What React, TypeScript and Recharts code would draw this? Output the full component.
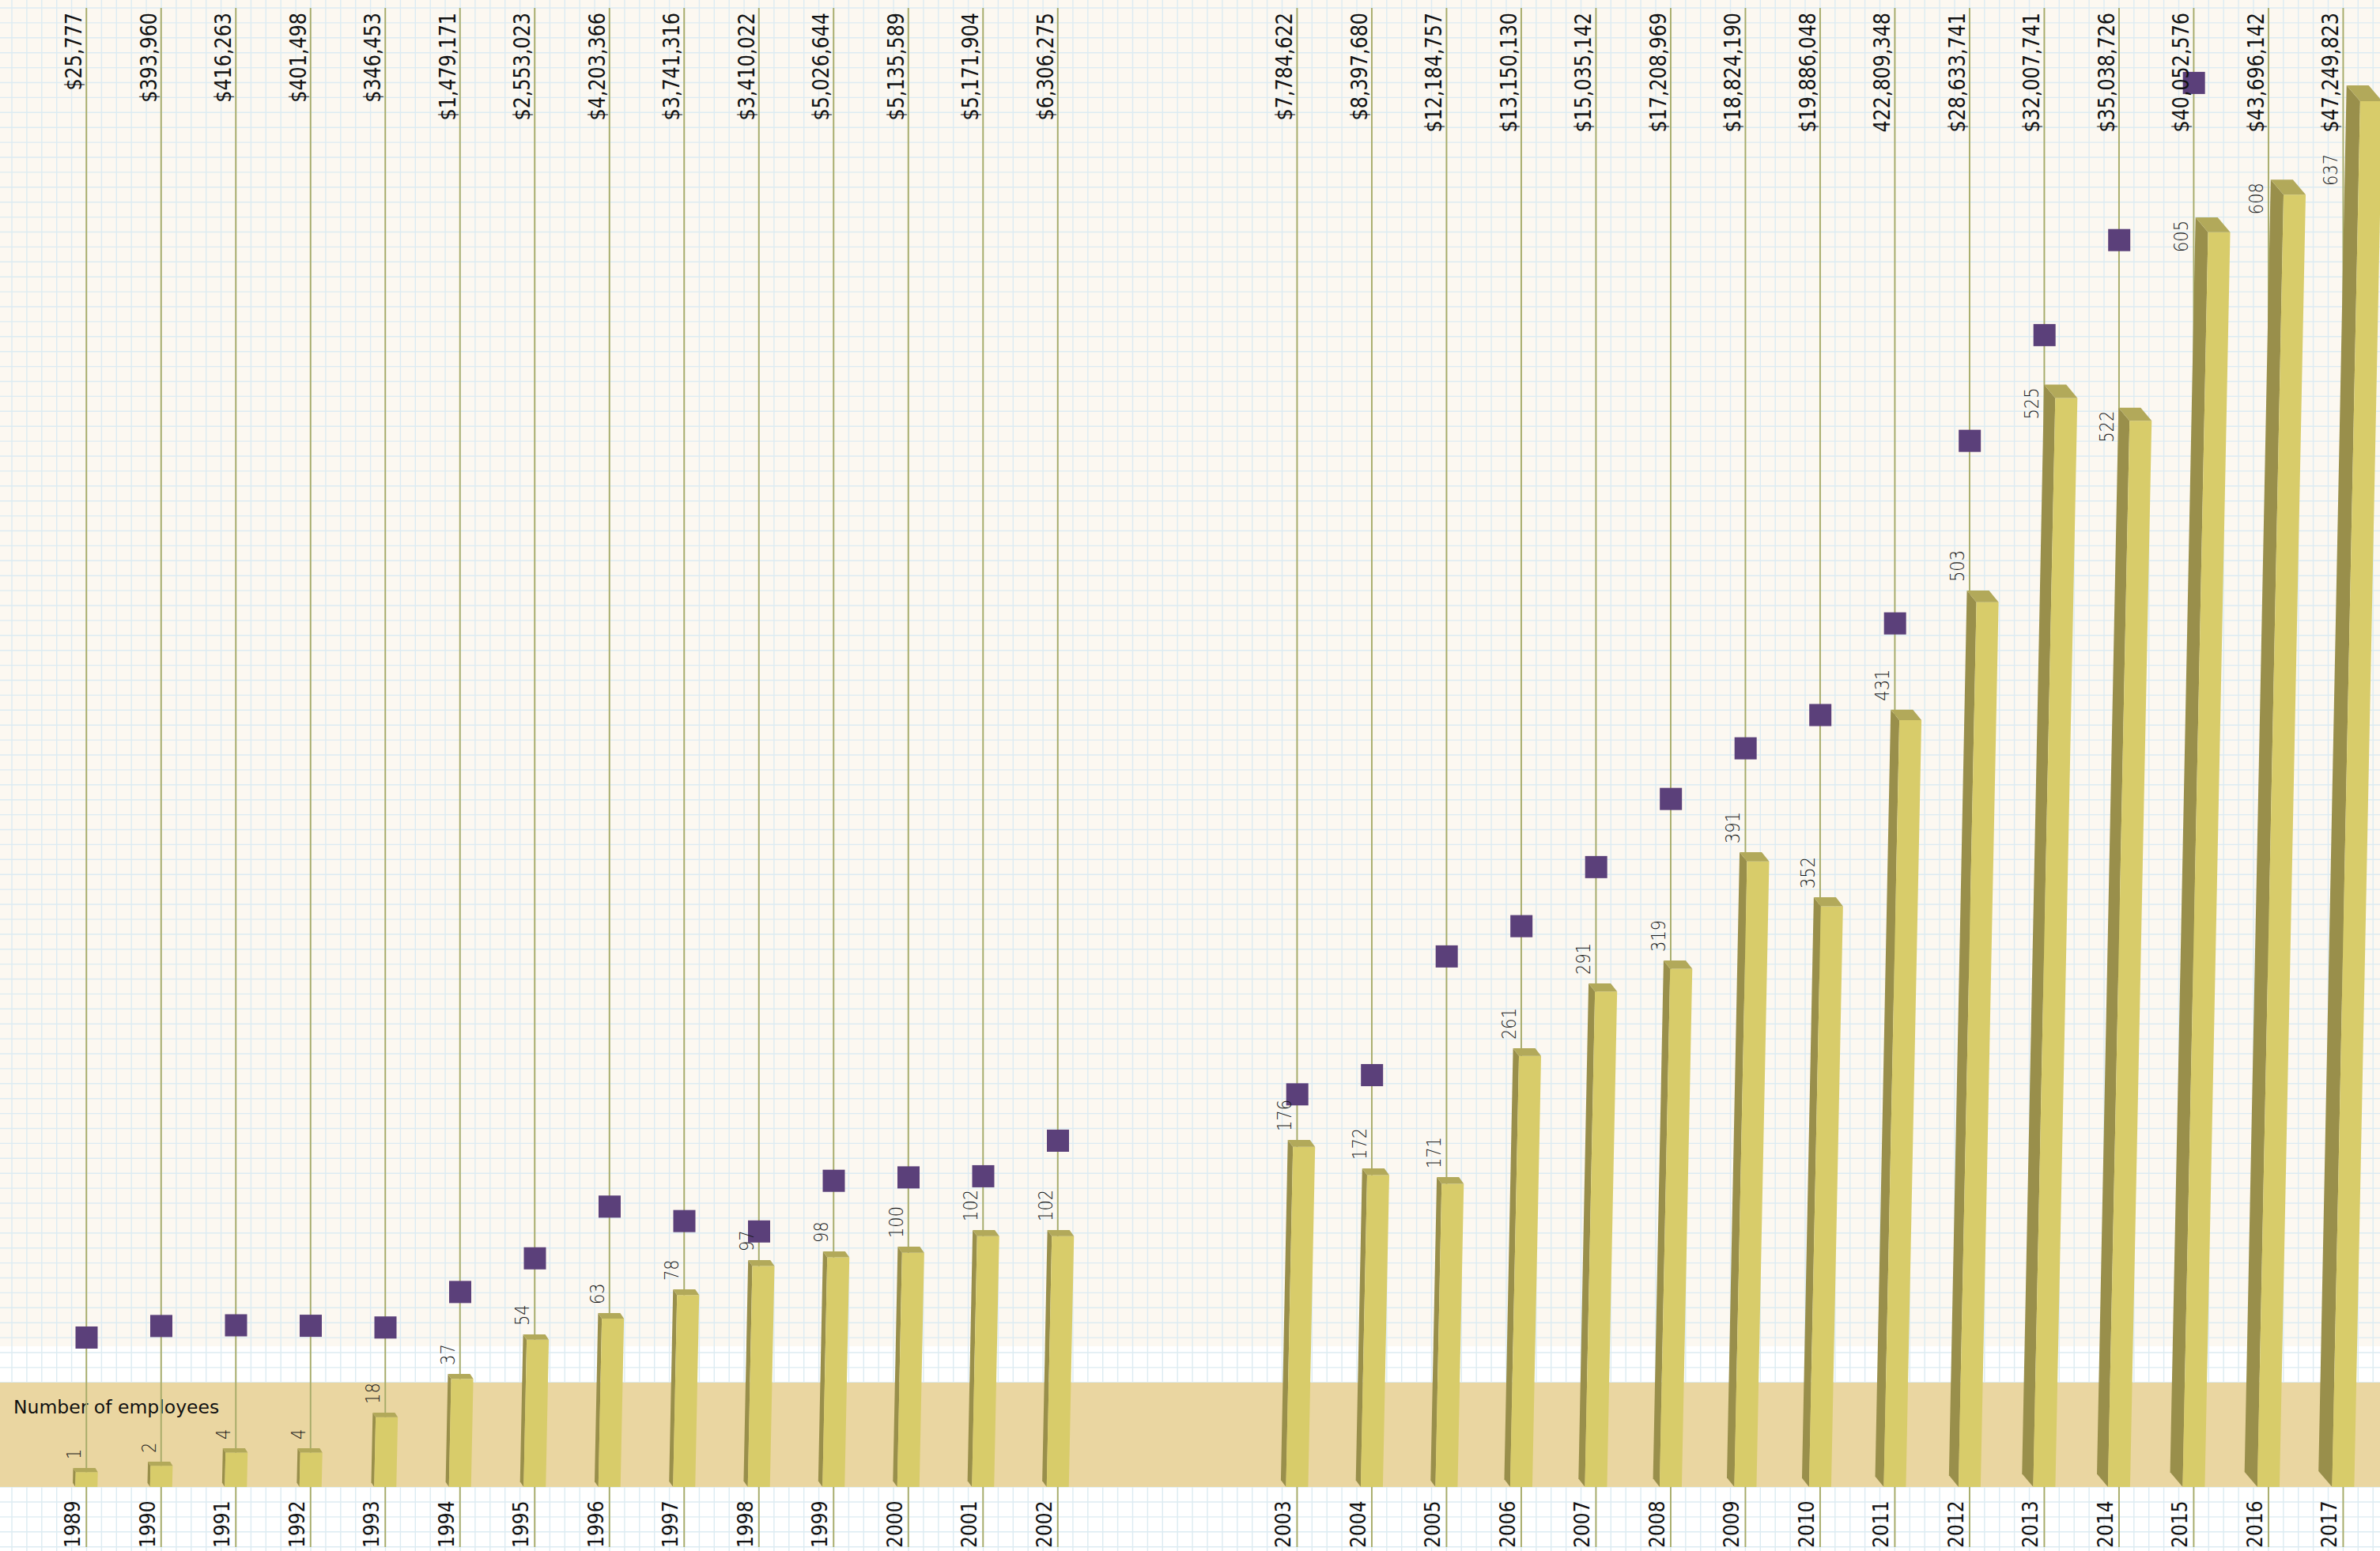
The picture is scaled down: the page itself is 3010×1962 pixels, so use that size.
import React from 'react';
import { ComposedChart, Bar, Scatter, XAxis, YAxis, LabelList } from 'recharts';

// ---------- data ----------
const years = [
  1989, 1990, 1991, 1992, 1993, 1994, 1995, 1996, 1997, 1998, 1999, 2000, 2001, 2002,
  2003, 2004, 2005, 2006, 2007, 2008, 2009, 2010, 2011, 2012, 2013, 2014, 2015, 2016, 2017,
];
const employees = [
  1, 2, 4, 4, 18, 37, 54, 63, 78, 97, 98, 100, 102, 102,
  176, 172, 171, 261, 291, 319, 391, 352, 431, 503, 525, 522, 605, 608, 637,
];
// drawn height of each (hand-drawn) bar, in employee-axis units
const barLevels = [
  8.6, 11.5, 17.6, 17.6, 33.8, 51.4, 69.3, 79.0, 89.8, 103.1, 107.1, 109.2, 116.8, 116.8,
  157.7, 144.8, 140.8, 199.4, 228.9, 239.3, 288.5, 268.0, 353.3, 407.4, 501.0, 490.5, 577.0, 594.2, 637,
];
const revenue = [
  25777, 393960, 416263, 401498, 346453, 1479171, 2553023, 4203366, 3741316, 3410022, 5026644, 5135589,
  5171904, 6306275, 7784622, 8397680, 12184757, 13150130, 15035142, 17208969, 18824190, 19886048,
  22809348, 28633741, 32007741, 35038726, 40052576, 43696142, 47249823,
];
const revenueLabels = [
  '$25,777', '$393,960', '$416,263', '$401,498', '$346,453', '$1,479,171', '$2,553,023', '$4,203,366',
  '$3,741,316', '$3,410,022', '$5,026,644', '$5,135,589', '$5,171,904', '$6,306,275', '$7,784,622',
  '$8,397,680', '$12,184,757', '$13,150,130', '$15,035,142', '$17,208,969', '$18,824,190', '$19,886,048',
  '422,809,348', '$28,633,741', '$32,007,741', '$35,038,726', '$40,052,576', '$43,696,142', '$47,249,823',
];
const bandTitle = 'Number of employees';

// ---------- layout / style ----------
const W = 3010;
const H = 1962;
const PLOT_TOP = 10;
const PLOT_BOTTOM = 1957;
const AXIS_BREAK_AFTER = 2002; // timeline break between 2002 and 2003
const AXIS_BREAK_EXTRA = 2.203; // extra slots in the break

const CREAM = '#fcf8f1';
const GRID = '#dcebf2';
const BAND = '#ead6a1';
const LINE = '#a7ab68';
const FRONT = '#d8cc6a';
const SIDE = '#998f4b';
const TOP = '#b2a95a';
const SQUARE = '#5b407a';
const NUM_FONT = "'DejaVu Sans Condensed', 'DejaVu Sans', sans-serif";

const data = years.map((year, i) => ({
  year,
  slot: i + (year > AXIS_BREAK_AFTER ? AXIS_BREAK_EXTRA : 0),
  employees: employees[i],
  barLevel: barLevels[i],
  revenue: revenue[i],
  revenueLabel: revenueLabels[i],
}));

const Bar3D = (props: any) => {
  const { x, y, width, height } = props;
  if (x == null || y == null || !height) return null;
  const cx = x + width / 2;
  const h = height;
  const base = y + h;
  const f = 28;
  const s = 3 + 0.008 * h;
  const t = 5 + 0.0085 * h;
  const lean = 0.02 * h;
  const bx = cx - f / 2;
  const tx = bx + lean;
  const pts = (a: number[][]) => a.map((p) => p.join(',')).join(' ');
  return (
    <g>
      <line x1={cx} x2={cx} y1={PLOT_TOP} y2={PLOT_BOTTOM} stroke={LINE} strokeWidth={1.9} />
      <polygon points={pts([[tx - s, y], [tx, y + t], [bx, base], [bx - s, base - t]])} fill={SIDE} />
      <polygon points={pts([[tx, y + t], [tx + f, y + t], [bx + f, base], [bx, base]])} fill={FRONT} />
      <polygon points={pts([[tx - s, y], [tx - s + f, y], [tx + f, y + t], [tx, y + t]])} fill={TOP} />
    </g>
  );
};

const RevenueLabel = (props: any) => {
  const { x, width, value } = props;
  const cx = x + width / 2;
  return (
    <text
      transform={`translate(${cx - 6},16) rotate(-90) scale(1,1.08)`}
      textAnchor="end"
      fontFamily={NUM_FONT}
      fontStretch="condensed"
      fontSize={26.5}
      fill="#111"
    >
      {value}
    </text>
  );
};

const YearLabel = (props: any) => {
  const { x, width, value } = props;
  const cx = x + width / 2;
  return (
    <text
      transform={`translate(${cx - 8},1958) rotate(-90)`}
      textAnchor="start"
      fontFamily={NUM_FONT}
      fontStretch="condensed"
      fontSize={26}
      fill="#111"
    >
      {value}
    </text>
  );
};

const EmployeeLabel = (props: any) => {
  const { x, y, width, height, value } = props;
  const cx = x + width / 2;
  // tall leaning bars carry their label beside the top; keep clear of the revenue text
  const bottom = height > 1300 ? Math.max(y + 44, 235) : y - 11;
  return (
    <text
      transform={`translate(${cx - 7},${bottom}) rotate(-90) scale(1,1.15)`}
      textAnchor="start"
      fontFamily="'DejaVu Sans', sans-serif"
      fontWeight={200}
      fontSize={21}
      fill="#1a1a1a"
    >
      {value}
    </text>
  );
};

const Square = (props: any) => {
  const { cx, cy } = props;
  if (cx == null || cy == null) return null;
  return <rect x={cx - 14} y={cy - 14} width={28} height={28} fill={SQUARE} />;
};

const Background = () => {
  const vLines: number[] = [];
  for (let k = -6; k < 156; k++) vLines.push(109.5 + k * 18.9);
  const hLines: number[] = [];
  for (let k = -1; k < 105; k++) hLines.push(10 + k * 18.9);
  return (
    <svg width={W} height={H} style={{ position: 'absolute', left: 0, top: 0 }}>
      <rect x={0} y={0} width={W} height={1703} fill={CREAM} />
      <rect x={0} y={1703} width={W} height={H - 1703} fill="#ffffff" />
      {vLines.map((x, i) => (
        <line key={'v' + i} x1={x} x2={x} y1={0} y2={H} stroke={GRID} strokeWidth={1.4} />
      ))}
      {hLines.map((y, i) => (
        <line key={'h' + i} x1={0} x2={W} y1={y} y2={y} stroke={GRID} strokeWidth={1.4} />
      ))}
      <rect x={0} y={1749} width={W} height={132} fill={BAND} />
      <text x={17} y={1788} fontFamily="'DejaVu Sans', sans-serif" fontSize={23.5} fill="#111">
        {bandTitle}
      </text>
    </svg>
  );
};

export default function App() {
  const xMin = -109.5 / 94.5;
  const xMax = (W - 109.5) / 94.5;
  const k = (1881 - 108) / 637;
  const empMax = (1881 - PLOT_TOP) / k;
  const empMin = -(PLOT_BOTTOM - 1881) / k;
  const revPerPx = 1e6 / 39.65;
  const revMax = (1693 - PLOT_TOP) * revPerPx;
  const revMin = -(PLOT_BOTTOM - 1693) * revPerPx;
  return (
    <div style={{ position: 'absolute', left: 0, top: 0, width: W, height: H, overflow: 'hidden' }}>
      <Background />
      <div style={{ position: 'absolute', left: 0, top: 0 }}>
        <ComposedChart
          width={W}
          height={H}
          data={data}
          margin={{ top: PLOT_TOP, right: 0, bottom: H - PLOT_BOTTOM, left: 0 }}
        >
          <XAxis dataKey="slot" type="number" domain={[xMin, xMax]} allowDataOverflow hide />
          <YAxis yAxisId="emp" hide domain={[empMin, empMax]} allowDataOverflow />
          <YAxis yAxisId="rev" hide domain={[revMin, revMax]} allowDataOverflow />
          <Bar
            yAxisId="emp"
            dataKey="barLevel"
            barSize={40}
            shape={<Bar3D />}
            isAnimationActive={false}
          >
            <LabelList dataKey="revenueLabel" content={<RevenueLabel />} />
            <LabelList dataKey="year" content={<YearLabel />} />
            <LabelList dataKey="employees" content={<EmployeeLabel />} />
          </Bar>
          <Scatter
            yAxisId="rev"
            dataKey="revenue"
            shape={<Square />}
            isAnimationActive={false}
          />
        </ComposedChart>
      </div>
    </div>
  );
}
